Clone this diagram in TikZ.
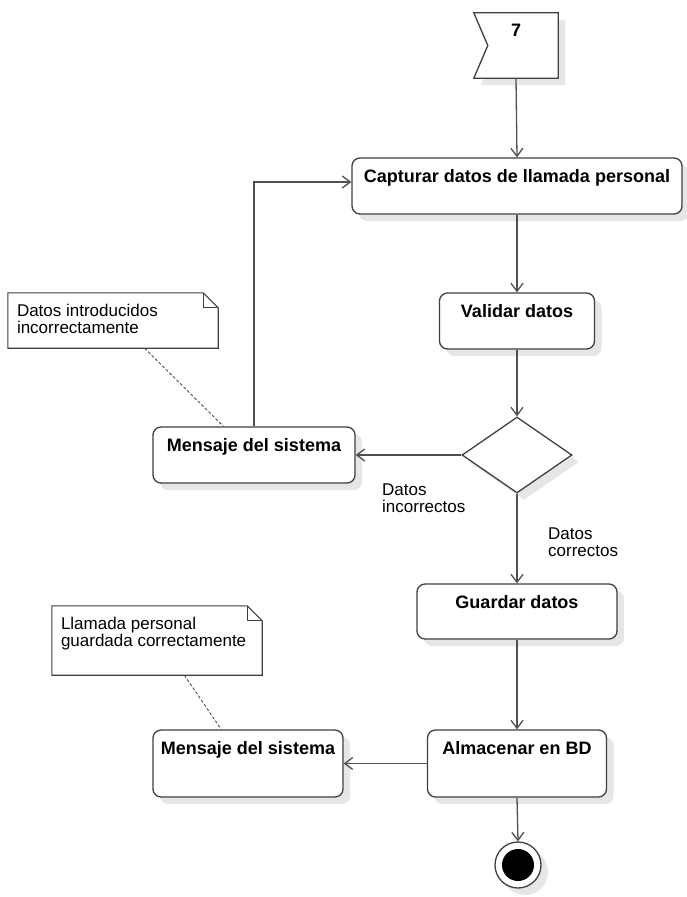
\documentclass[tikz,border=0pt]{standalone}
\usepackage{fontspec}
\setmainfont{Liberation Sans}
\usetikzlibrary{arrows.meta,calc,positioning,shapes.geometric,shadows,backgrounds}
\definecolor{ink}{HTML}{000000}
\definecolor{edge}{HTML}{505050}
\definecolor{frame}{HTML}{3F3F3F}
\definecolor{shade}{HTML}{E6E6E6}
\tikzset{
  box shadow/.style={drop shadow={shadow xshift=7pt,shadow yshift=-7pt,fill=shade,opacity=1}},
  flow arrow/.style={draw=edge,line width=1.3pt,-{Straight Barb[length=8pt,width=12pt]}},
  activity/.style={draw=frame,line width=1.3pt,rounded corners=8pt,fill=white,box shadow,
    font=\bfseries\fontsize{18}{21}\selectfont,text=ink,
    inner xsep=0pt,inner ysep=0pt,text height=24.5pt,text depth=31.5pt},
  decision/.style={diamond,draw=frame,line width=1.3pt,fill=white,box shadow,
    minimum width=110pt,minimum height=76pt,inner sep=0pt},
  final state/.style={circle,draw=frame,line width=1.3pt,fill=white,box shadow,
    minimum size=46pt,inner sep=0pt},
  flag/.style={draw=frame,line width=1.3pt,fill=white,box shadow},
  note frame/.style={draw=frame,line width=1.1pt,fill=white},
  note text/.style={font=\fontsize{17}{17.5}\selectfont,text=ink,align=left,inner sep=0pt,anchor=north west},
  guard text/.style={font=\fontsize{17}{16.5}\selectfont,text=ink,align=left,inner sep=0pt,anchor=north west},
  note link/.style={draw=edge,line width=.9pt,dash pattern=on 3pt off 2pt}
}

\begin{document}
\begin{tikzpicture}[x=1pt,y=-1pt]
  \path[use as bounding box] (0,0) rectangle (687,897);

  % Entry flag
  \node[inner sep=0pt,minimum width=84pt,font=\bfseries\fontsize{18}{21}\selectfont,
        text height=23.5pt,text depth=41.5pt] (start) at (516,45.5) {7};
  \begin{pgfonlayer}{background}
    \fill[white] (0,0) rectangle (687,897);
    \path[flag] (start.north west) -- (start.north east) -- (start.south east)
      -- (start.south west) -- ([xshift=14pt]start.west) -- cycle;
  \end{pgfonlayer}

  % Activities
  \node[activity,minimum width=330pt] (capt) at (517,186) {Capturar datos de llamada personal};
  \node[activity,minimum width=155pt] (check) at (517,321) {Validar datos};
  \node[decision] (valid) at (517,455) {};
  \node[activity,minimum width=202pt] (msg1) at (254,455) {Mensaje del sistema};
  \node[activity,minimum width=200pt,text depth=30.5pt] (save) at (517,611.5) {Guardar datos};
  \node[activity,minimum width=179pt,text depth=42.5pt] (store) at (517,763.5) {Almacenar en BD};
  \node[activity,minimum width=190pt,text depth=42.5pt] (msg2) at (248,763.5) {Mensaje del sistema};
  \node[final state] (end) at (518,865) {};
  \fill[ink] (end.center) circle (16pt);

  % Notes
  \node[minimum width=210pt,minimum height=55pt,inner sep=0pt] (note1) at (113,320.5) {};
  \path[note frame] (note1.south west) -- (note1.north west) -- ([xshift=-15pt]note1.north east)
    -- ([yshift=-15pt]note1.north east) -- (note1.south east) -- cycle;
  \draw[note frame,fill=none] ([xshift=-15pt]note1.north east) |- ([yshift=-15pt]note1.north east);
  \node[note text] (note1txt) at ([xshift=9pt,yshift=-11pt]note1.north west)
    {Datos introducidos\\incorrectamente};

  \node[minimum width=210pt,minimum height=69pt,inner sep=0pt] (note2) at (157,640.5) {};
  \path[note frame] (note2.south west) -- (note2.north west) -- ([xshift=-15pt]note2.north east)
    -- ([yshift=-15pt]note2.north east) -- (note2.south east) -- cycle;
  \draw[note frame,fill=none] ([xshift=-15pt]note2.north east) |- ([yshift=-15pt]note2.north east);
  \node[note text] (note2txt) at ([xshift=9pt,yshift=-11pt]note2.north west)
    {Llamada personal\\guardada correctamente};

  \draw[note link] ($(note1.south west)!0.65!(note1.south east)$) -- ($(msg1.north west)!0.35!(msg1.north east)$);
  \draw[note link] ($(note2.south west)!0.63!(note2.south east)$) -- ($(msg2.north west)!0.36!(msg2.north east)$);

  % Flow
  \draw[flow arrow] (start.south) -- (capt.north);
  \draw[flow arrow] (capt.south) -- (check.north);
  \draw[flow arrow] (check.south) -- (valid.north);
  \draw[flow arrow] (valid.west) -- (msg1.east);
  \draw[flow arrow] (msg1.north) |- ([yshift=4pt]capt.west);
  \draw[flow arrow] (valid.south) -- (save.north);
  \draw[flow arrow] (save.south) -- (store.north);
  \draw[flow arrow] (store.west) -- (msg2.east);
  \draw[flow arrow] (store.south) -- (end.north);

  % Guards
  \node[guard text] (nolbl) at (382,484) {Datos\\incorrectos};
  \node[guard text] (yeslbl) at (548,528) {Datos\\correctos};
\end{tikzpicture}
\end{document}
